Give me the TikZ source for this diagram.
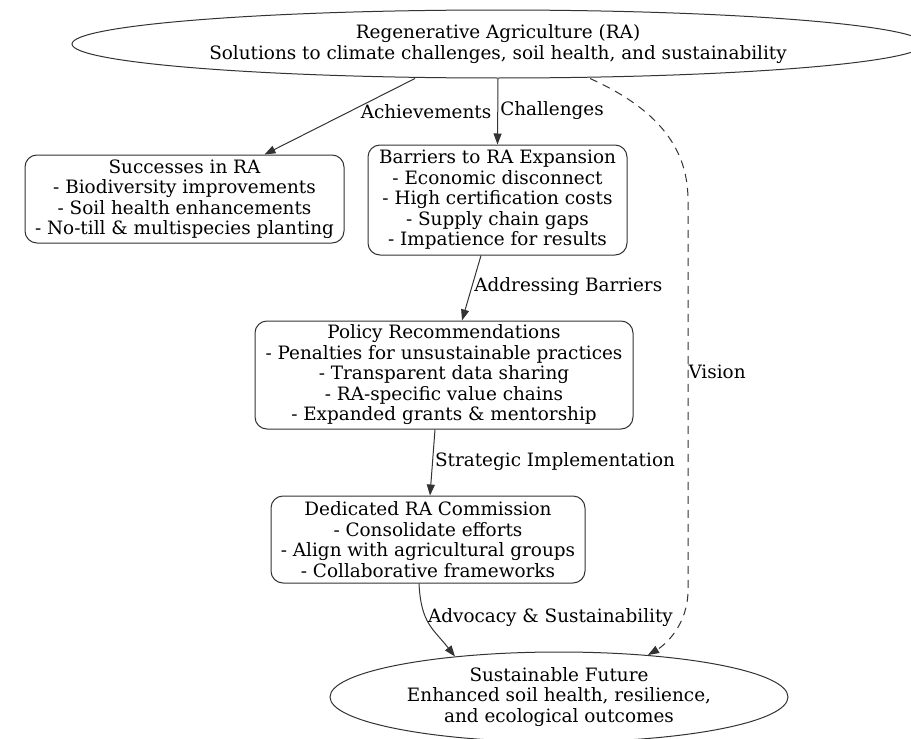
\documentclass[tikz,border=0pt]{standalone}
\usepackage{fontspec}
\setmainfont{DejaVu Serif}
\usepackage{tikz}
\usetikzlibrary{arrows.meta,shapes.geometric,calc,positioning}
\definecolor{EdgeGray}{HTML}{333333}

\begin{document}
\begin{tikzpicture}[x=0.5pt, y=-0.5pt,
  every node/.style={font=\fontsize{9.2}{10.25}\selectfont},
  box/.style={draw=EdgeGray, line width=0.5pt, rounded corners=6pt, align=center, inner sep=0pt},
  oval/.style={draw=EdgeGray, line width=0.5pt, ellipse, align=center, inner sep=0pt},
  link/.style={-{Triangle[length=5.5pt,width=4pt]}, EdgeGray, line width=0.5pt},
  tag/.style={anchor=west, text=black, inner sep=0pt}]

\useasboundingbox (0,0) rectangle (911,739);

\node[oval, minimum width=426pt, minimum height=34pt] (ra) at (498,44) {Regenerative Agriculture (RA)\\Solutions to climate challenges, soil health, and sustainability};

\node[box, minimum width=159.5pt, minimum height=44pt] (succ) at (184.5,199) {Successes in RA\\- Biodiversity improvements\\- Soil health enhancements\\- No-till \& multispecies planting};
\node[box, minimum width=129.5pt, minimum height=55pt] (bar) at (497.5,200) {Barriers to RA Expansion\\- Economic disconnect\\- High certification costs\\- Supply chain gaps\\- Impatience for results};

\node[box, minimum width=189pt, minimum height=54pt] (pol) at (444,375) {Policy Recommendations\\- Penalties for unsustainable practices\\- Transparent data sharing\\- RA-specific value chains\\- Expanded grants \& mentorship};

\node[box, minimum width=157pt, minimum height=43.5pt] (com) at (428,539.5) {Dedicated RA Commission\\- Consolidate efforts\\- Align with agricultural groups\\- Collaborative frameworks};

\node[oval, minimum width=229pt, minimum height=45pt] (fut) at (559,697) {Sustainable Future\\Enhanced soil health, resilience,\\and ecological outcomes};

\draw[link] ($(ra.south)+(-83,0)$) -- node[tag, pos=0.43, xshift=5pt] {Achievements} ($(succ.north)+(80,0)$);
\draw[link] (ra.south) -- node[tag, pos=0.49, xshift=1pt] {Challenges} (bar.north);

\draw[link] ($(bar.south)+(-16.5,0)$) -- node[tag, pos=0.48, xshift=1pt] {Addressing Barriers} ($(pol.north)+(18,0)$);
\draw[link] ($(pol.south)+(-9,0)$) -- node[tag, pos=0.49, xshift=1pt] {Strategic Implementation} ($(com.north)+(2,0)$);
\draw[link] ($(com.south)+(-9,0)$) .. controls +(2,40) and +(-22,-28) .. node[tag, pos=0.38, xshift=1pt] {Advocacy \& Sustainability} ($(fut.north)+(-104,5)$);

\draw[link, dash pattern=on 4pt off 3pt] ($(ra.south)+(92,0)$) .. controls (660,110) and (688,150) .. (688,200) -- node[tag, pos=0.44] {Vision} (688,590) .. controls (688,625) and (665,645) .. ($(fut.north)+(89,3.5)$);

\end{tikzpicture}
\end{document}
